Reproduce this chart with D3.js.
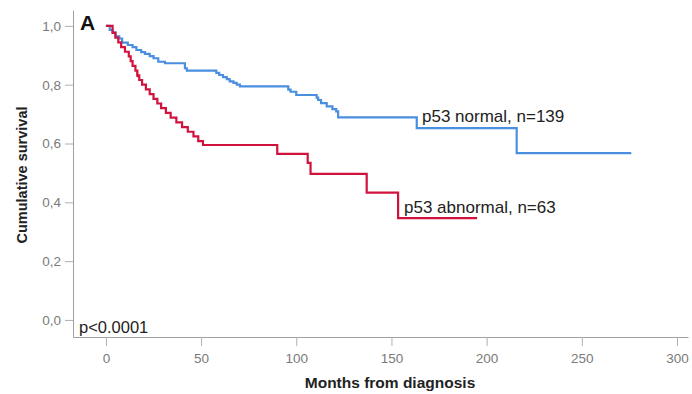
<!DOCTYPE html>
<html>
<head>
<meta charset="utf-8">
<script src="https://cdn.jsdelivr.net/npm/d3@7"></script>
<style>
  body { margin: 0; background: #fff; }
  text { font-family: "Liberation Sans", Arial, sans-serif; }
  .tick-label { fill: #7a7a7a; font-size: 13.5px; }
</style>
</head>
<body>
<div class="chart-area"></div>
<script>
// Kaplan-Meier steps (months, survival after the step)
var normalTimes = [0, 2, 3.5, 5, 7, 8.5, 11.5, 14, 16, 18.5, 20.5, 23, 25, 27.5, 31, 41.5, 42.5,
    58, 59.5, 61.5, 63.5, 65, 67, 68.7, 70.4, 95.8, 97, 100, 110.7, 111.5, 113, 116, 119, 121, 122,
    163.3, 215.8, 276];
var normalSurv = [1, 0.986, 0.978, 0.964, 0.957, 0.943, 0.935, 0.928, 0.918, 0.911, 0.905, 0.897, 0.89, 0.878, 0.873, 0.856, 0.848,
    0.84, 0.833, 0.826, 0.819, 0.811, 0.806, 0.8, 0.794, 0.783, 0.776, 0.765, 0.756, 0.748, 0.737, 0.726, 0.717, 0.709, 0.689,
    0.652, 0.567, 0.567];

var abnormalTimes = [0, 3.5, 5, 6.5, 8, 10, 12, 13, 14, 15.5, 16.5, 17.5, 19, 21, 23, 25, 27, 29, 31.5, 34,
    37, 40, 43, 46, 48.5, 51, 90, 106, 107.5, 137, 153.5, 195];
var abnormalSurv = [1, 0.976, 0.96, 0.944, 0.928, 0.912, 0.896, 0.88, 0.864, 0.848, 0.832, 0.816, 0.8, 0.784, 0.768, 0.752, 0.736, 0.72, 0.704, 0.688,
    0.672, 0.656, 0.64, 0.624, 0.608, 0.595, 0.565, 0.534, 0.497, 0.433, 0.346, 0.346];

var abnormalCensor = [16.5];

var xTicks = [0, 50, 100, 150, 200, 250, 300];
var yTicks = [0, 0.2, 0.4, 0.6, 0.8, 1.0];

var svg = d3.select(".chart-area").append("svg")
    .attr("width", 692)
    .attr("height", 394);

var x = d3.scaleLinear().domain([-17.3, 305.8]).range([73, 688]);
var y = d3.scaleLinear().domain([-0.058, 1.054]).range([337, 10]);

// axes
var xAxis = svg.append("g")
    .attr("transform", "translate(0,337)")
    .call(d3.axisBottom(x).tickValues(xTicks).tickSize(9).tickSizeOuter(0).tickPadding(7));
xAxis.select(".domain").attr("stroke", "#a0a0a0");
xAxis.selectAll(".tick line").attr("stroke", "#b0b0b0");
xAxis.selectAll(".tick text").attr("class", "tick-label").attr("font-size", null).attr("font-family", null);

var yAxis = svg.append("g")
    .attr("transform", "translate(73,0)")
    .call(d3.axisLeft(y).tickValues(yTicks).tickSize(8).tickSizeOuter(0).tickPadding(4)
        .tickFormat(function(d) { return d3.format(".1f")(d).replace(".", ","); }));
yAxis.select(".domain").attr("stroke", "#a0a0a0");
yAxis.selectAll(".tick line").attr("stroke", "#b0b0b0");
yAxis.selectAll(".tick text").attr("class", "tick-label").attr("font-size", null).attr("font-family", null);

// curves
var line = d3.line()
    .x(function(d) { return x(d[0]); })
    .y(function(d) { return y(d[1]); })
    .curve(d3.curveStepAfter);

var normalData = normalTimes.map(function(t, i) { return [t, normalSurv[i]]; });
var abnormalData = abnormalTimes.map(function(t, i) { return [t, abnormalSurv[i]]; });

svg.append("path")
    .datum(normalData)
    .attr("fill", "none")
    .attr("stroke", "#4a8fdf")
    .attr("stroke-width", 2.2)
    .attr("d", line);

svg.append("path")
    .datum(abnormalData)
    .attr("fill", "none")
    .attr("stroke", "#d1123d")
    .attr("stroke-width", 2.2)
    .attr("d", line);

// censor tick on red curve
svg.selectAll("line.censor")
    .data(abnormalCensor)
    .enter()
    .append("line")
    .attr("stroke", "#d1123d")
    .attr("stroke-width", 1.5)
    .attr("x1", function(d) { return x(d); })
    .attr("x2", function(d) { return x(d); })
    .attr("y1", function(d) { return y(0.832) - 4; })
    .attr("y2", function(d) { return y(0.832) + 2; });

// labels
svg.append("text")
    .attr("x", 422).attr("y", 122)
    .attr("font-size", 17).attr("fill", "#222")
    .text("p53 normal, n=139");

svg.append("text")
    .attr("x", 404).attr("y", 213)
    .attr("font-size", 17).attr("fill", "#222")
    .text("p53 abnormal, n=63");

svg.append("text")
    .attr("x", 80).attr("y", 30)
    .attr("font-size", 21).attr("font-weight", "bold").attr("fill", "#111")
    .text("A");

svg.append("text")
    .attr("x", 79).attr("y", 333)
    .attr("font-size", 16.5).attr("fill", "#222")
    .text("p<0.0001");

svg.append("text")
    .attr("x", 390).attr("y", 388)
    .attr("text-anchor", "middle")
    .attr("font-size", 15.5).attr("font-weight", "bold").attr("fill", "#222")
    .text("Months from diagnosis");

svg.append("text")
    .attr("transform", "translate(27,175) rotate(-90)")
    .attr("text-anchor", "middle")
    .attr("font-size", 14.5).attr("font-weight", "bold").attr("fill", "#222")
    .text("Cumulative survival");
</script>
</body>
</html>
